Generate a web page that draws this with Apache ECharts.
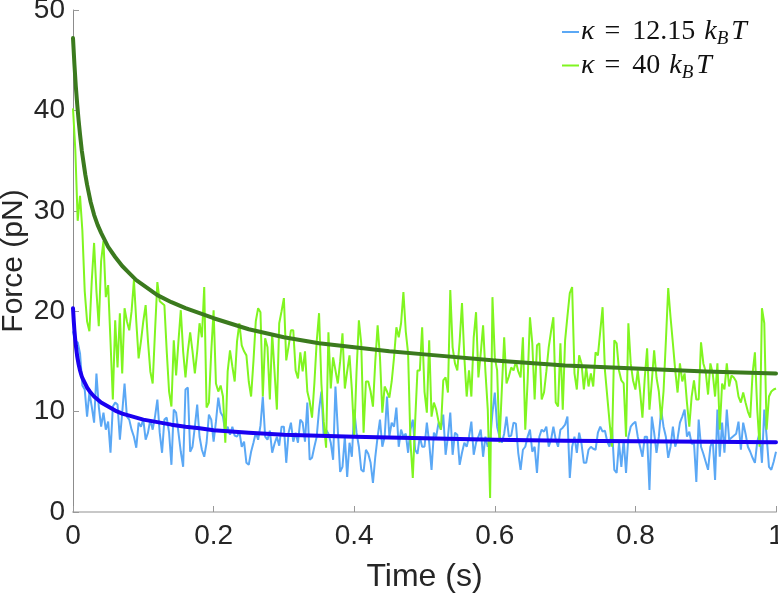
<!DOCTYPE html>
<html>
<head>
<meta charset="utf-8">
<script src="https://cdn.jsdelivr.net/npm/echarts@6/dist/echarts.min.js"></script>
<style>
html,body{margin:0;padding:0;background:#fff;}
#c{width:778px;height:598px;}
</style>
</head>
<body>
<div id="c"></div>
<script>
// ---- data ----
const sampleStep = 1 / 300; // sampling interval of the noisy traces (s)

const blueNoise = [
18,17,16.9,15.8,12.6,12.2,9.5,11.9,10.5,8.9,
13.8,10.5,8.5,9.9,8.2,9,5.9,10.5,10.9,10.7,
7.2,9.9,12.8,9.5,9.2,8.2,7.5,6.4,8.9,8.5,
9.2,7.2,7.9,9.2,8.2,9.5,11.2,7.9,5.9,9.2,
9.4,7.9,4.7,10.2,9.9,7.9,6,4.5,12.2,12.4,
6,6.5,8.5,10.7,7.5,6.2,5.5,6.9,9.7,9.2,
7,9,11.4,9.9,9.5,7.9,8.5,7.7,8.5,7.6,
7.5,8,6.5,7,4.9,4.7,6,6.9,7.9,7.2,
8.6,11.5,7.5,7.2,8.1,5.9,6.8,7.5,6.6,8.5,
8.5,4.9,7.9,8.9,7,7.9,6.9,9.2,8.9,7,
10.9,5.2,5.4,6.5,7.5,10.2,12,7.5,8.2,7.8,
6.9,5.2,12.5,8.2,4,4.5,7.5,3.5,6.9,5.5,
10.2,7.9,6.5,4.2,4,6.2,5.8,4.9,2.9,5.5,
7.5,9.2,6.5,7.5,11.5,7.5,8.9,8.5,10.4,6.5,
8.2,7.5,7.8,5.9,8.2,9.2,6.2,5.8,7.5,6.5,
6.5,8.9,6.9,4.2,7.9,7.5,8.9,8.2,9.7,5.7,
7.5,9.9,5.7,7.9,7.7,4.7,5.9,6.9,6.5,7.5,
9,5.7,6.9,7.5,8.2,5.5,7.5,6.5,7.2,9.9,
11.9,8.5,7.5,6.9,7.8,9.5,7.5,7.6,8.9,8.8,
5.9,4.2,6.2,6.5,7.5,8.2,6,6.5,3.9,7.5,
8.2,8,8.5,6.5,7.2,8.5,7.2,6.5,8.2,8.4,
8.7,9.5,3.4,6.5,7.5,5.9,7.9,6.8,4.9,4.9,
6.2,6.5,6.3,6.2,7.9,8.5,8,8.1,7,6.5,
8.4,4.2,3.9,6.9,4.5,7.2,3.9,7.5,8.5,8.8,
9,7.5,6.5,5.5,7.5,7.5,2.2,9.5,7.9,5.9,
7.5,10.2,8.5,7.5,5.4,6.5,8.5,6.5,7.3,8.9,
9.5,10.2,7.5,8,6.8,6.9,3,9.2,6.5,5.8,
5,4.2,6.5,7.2,3.2,10.2,5.5,8.9,5.9,10.2,
7.2,7.4,7.6,7.8,9,6.2,8.9,7.8,6.5,6,
5.4,4.9,7,7.9,4.9,10.2,7.5,4.5,4.2,5,
6
];

const greenNoise = [
40.2,36,29,31.5,28,22,19,18,23,26.8,
22,18.5,25,27,21.4,22.6,17,11.2,19.1,14.4,
19.8,13.8,20.3,19,18.1,20,23.1,19,15.3,17,
19,20.6,17,14,12.8,18,22.9,21,20.8,20.6,
16,12,10.5,17.1,13.6,17,20.1,16,13.4,16,
17.9,16,13.8,16,18.8,17.4,22.4,10.4,10.9,16,
20.1,12.8,12,12.6,11.5,6.9,14,16.1,14.5,13,
17,18.8,16.6,16,15.6,13,11.5,15,19,20.3,
19.9,11.5,17.3,16.4,11.2,17.8,14,10.2,18.8,20,
21.3,15.1,16.5,18.1,18.1,14.1,13.3,15.9,14,16,
12,11,9.4,12.8,17,19.8,12.8,9,6.4,17.9,
12.3,15.4,14.1,12.8,15,17.8,12.3,14,15.6,12.2,
7.5,14,19.1,16.8,7.9,13,13,12,10.5,15,
18.6,15.4,9.9,12.5,12,11.4,13,15.4,18.4,17.4,
18.8,21.9,18,15.8,7,3.4,9,14.1,14.1,18.4,
12,9.9,17.1,9.5,10.9,10.2,9,8.2,13.1,13.4,
11.9,22.1,16.4,14.8,14.1,17,20.8,15.4,11.5,14.1,
11.5,17.4,19.9,13.4,15.8,18.6,14,10.2,1.4,21.4,
15.4,14.1,6.9,12.2,17.4,12.8,13.5,14.4,14.1,15,
14,13.4,17.4,8.2,13,19.4,16.8,11.2,16.6,16.8,
11.2,11.9,14,16.4,18,19.4,10.9,10.5,16.8,10.2,
17.1,19.5,21.8,22.4,13.8,12.2,15.6,14.8,12.2,14.4,
12.5,13.8,12.5,15.9,15.6,18,20.4,14.1,11.5,8.9,
6.5,17.1,16.8,14.1,13.1,12.8,7.5,18.8,14.8,13.1,
12.2,14.1,12,9.4,13.4,16.3,10.2,13,16.1,13.4,
12,9.2,12,17,22.3,19.4,16.8,14.1,11.9,14.8,
13,13.8,10.9,8.5,11.5,13.1,11.2,11.2,16.9,14.8,
14,11.7,14.8,13.8,11.5,14.8,8.2,12.8,12.2,14.8,
12.5,13.6,13.4,13,11.5,10.9,11.9,10.9,10,9.4,
13.8,15.9,10.2,6.5,20.3,18.8,8.2,11.5,12,12.2,
12.3
];

// fitted curves
const blueFitT = [0,0.001,0.002,0.003,0.004,0.006,0.008,0.01,0.0125,0.015,0.02,0.025,0.03,0.04,0.05,0.06,0.07,0.08,0.1,0.12,0.14,0.16,0.18,0.2,0.25,0.3,0.35,0.4,0.5,0.6,0.7,0.8,0.9,1];
const blueFitF = [20.3,19.1,18.1,17.3,16.6,15.5,14.7,14.1,13.5,13.1,12.4,11.9,11.5,10.9,10.5,10.1,9.8,9.6,9.2,8.95,8.7,8.5,8.35,8.15,7.9,7.7,7.6,7.5,7.35,7.2,7.1,7.05,7.0,6.95];
const greenFitT = [0,0.002,0.004,0.006,0.008,0.01,0.0125,0.015,0.0175,0.02,0.025,0.03,0.035,0.04,0.05,0.06,0.07,0.08,0.09,0.1,0.12,0.14,0.16,0.18,0.2,0.25,0.3,0.35,0.4,0.45,0.5,0.6,0.7,0.8,0.9,1];
const greenFitF = [47.2,44.6,42.4,40.6,39.0,37.6,36.0,34.8,33.6,32.6,30.9,29.6,28.6,27.8,26.4,25.4,24.5,23.8,23.1,22.6,21.6,20.9,20.3,19.8,19.3,18.2,17.4,16.8,16.4,16.0,15.7,15.1,14.6,14.3,14.0,13.8];

const xTicks = [0,0.2,0.4,0.6,0.8,1];
const yTicks = [0,10,20,30,40,50];
const seriesNames = ['k12', 'k40'];
const legendLabels = { k12: '12.15', k40: '40' };

// ---- build ----
const pair = (ts, vs) => vs.map((v, i) => [ts[i], v]);
const noisePairs = vs => vs.map((v, i) => [i * sampleStep, v]);

const chart = echarts.init(document.getElementById('c'), null, { renderer: 'canvas' });
const axisFont = 'Liberation Sans, Arial, Helvetica, sans-serif';
const serif = 'Liberation Serif, DejaVu Serif, serif';
chart.setOption({
  animation: false,
  backgroundColor: '#ffffff',
  grid: { left: 73, right: 2, top: 10, bottom: 86, containLabel: false, outerBoundsMode: 'none' },
  xAxis: {
    type: 'value', min: xTicks[0], max: xTicks[xTicks.length - 1], interval: 0.2,
    name: 'Time (s)', nameLocation: 'middle', nameGap: 49, nameMoveOverlap: false,
    nameTextStyle: { fontSize: 32, color: '#262626', fontFamily: axisFont },
    axisLine: { show: true, onZero: false, lineStyle: { color: '#c8c8c8', width: 2 } },
    axisTick: { show: true, inside: true, length: 6, lineStyle: { color: '#999', width: 1 } },
    axisLabel: { fontSize: 28, color: '#262626', fontFamily: axisFont, margin: 10 },
    splitLine: { show: false }
  },
  yAxis: {
    type: 'value', min: yTicks[0], max: yTicks[yTicks.length - 1], interval: 10,
    name: 'Force (pN)', nameLocation: 'middle', nameGap: 44, nameMoveOverlap: false,
    nameTextStyle: { fontSize: 30, color: '#262626', fontFamily: axisFont },
    axisLine: { show: true, onZero: false, lineStyle: { color: '#8c8c8c', width: 1 } },
    axisTick: { show: true, inside: true, length: 6, lineStyle: { color: '#999', width: 1 } },
    axisLabel: { fontSize: 28, color: '#262626', fontFamily: axisFont, margin: 8 },
    splitLine: { show: false }
  },
  legend: {
    orient: 'vertical', left: 562, top: 18, itemGap: 3, padding: 0,
    data: seriesNames,
    icon: 'rect', itemWidth: 17, itemHeight: 2,
    formatter: name => '{it|κ}{eq|=}{n|' + legendLabels[name] + '}{it|k}{sub|B}{it|T}',
    textStyle: {
      padding: [0, 0, 0, -3],
      rich: {
        it: { fontFamily: serif, fontStyle: 'italic', fontSize: 28, color: '#111' },
        eq: { fontFamily: serif, fontSize: 28, color: '#111', padding: [0, 12, 0, 10] },
        n: { fontFamily: serif, fontSize: 28, color: '#111', padding: [0, 9, 0, 0] },
        sub: { fontFamily: serif, fontStyle: 'italic', fontSize: 19, color: '#111', padding: [14, 3, 0, 0] }
      }
    }
  },
  series: [
    { name: seriesNames[0], type: 'line', data: noisePairs(blueNoise), showSymbol: false,
      lineStyle: { color: '#5ba8f5', width: 2 }, itemStyle: { color: '#5ba8f5' }, z: 2 },
    { name: seriesNames[1], type: 'line', data: noisePairs(greenNoise), showSymbol: false,
      lineStyle: { color: '#80f520', width: 2 }, itemStyle: { color: '#80f520' }, z: 3 },
    { name: 'fitBlue', type: 'line', data: pair(blueFitT, blueFitF), showSymbol: false,
      lineStyle: { color: '#1a00f0', width: 4, join: 'round', cap: 'round' }, z: 4 },
    { name: 'fitGreen', type: 'line', data: pair(greenFitT, greenFitF), showSymbol: false,
      lineStyle: { color: '#3b7a1e', width: 4, join: 'round', cap: 'round' }, z: 5 }
  ]
});
</script>
</body>
</html>
